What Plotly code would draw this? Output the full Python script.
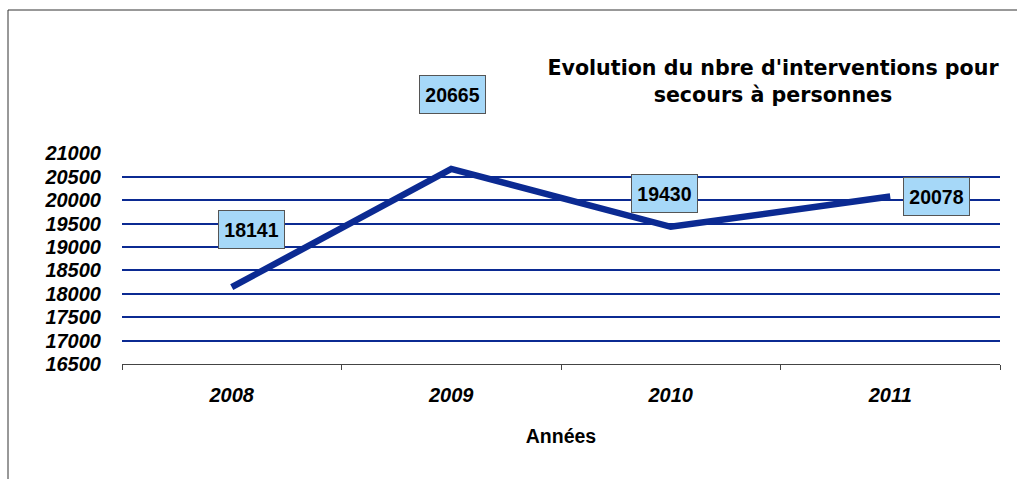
import plotly.graph_objects as go

# ---- data ----
years = ["2008", "2009", "2010", "2011"]
interventions = [18141, 20665, 19430, 20078]
y_tick_values = [16500, 17000, 17500, 18000, 18500, 19000, 19500, 20000, 20500, 21000]
y_tick_labels = [str(v) for v in y_tick_values]

title_text = "Evolution du nbre d'interventions pour<br>secours à personnes"
x_title = "Années"

# ---- styling constants ----
W, H = 1017, 479
ML, MR, MT, MB = 122, 17, 153, 115
NAVY = "#0b2a92"
FONT = "Liberation Sans, Arial, sans-serif"
TITLE_FONT = "DejaVu Sans, Liberation Sans, sans-serif"
label_shifts = [(20, 58), (1, 74), (-6, 33), (46, 0)]

fig = go.Figure()
fig.add_trace(go.Scatter(
    x=years, y=interventions, mode="lines",
    line=dict(color=NAVY, width=6.5),
    hoverinfo="skip", showlegend=False,
))

for i, (val, (dx, dy)) in enumerate(zip(interventions, label_shifts)):
    fig.add_annotation(
        x=i, y=val, xref="x", yref="y", text=str(val), showarrow=False,
        xshift=dx, yshift=dy,
        font=dict(family=FONT, size=19.5, color="black", weight="bold"),
        bgcolor="#a6d8f8", bordercolor="#555555", borderwidth=1,
        width=63, height=35, borderpad=1, align="center",
    )

plot_w = W - ML - MR
plot_h = H - MT - MB
fig.add_shape(
    type="rect", xref="paper", yref="paper",
    x0=(8 - ML) / plot_w, x1=1.2,
    y0=-1.0, y1=(H - MB - 10) / plot_h,
    line=dict(color="#333333", width=1), fillcolor="rgba(0,0,0,0)",
    layer="below",
)

fig.update_layout(
    width=W, height=H,
    margin=dict(l=ML, r=MR, t=MT, b=MB, autoexpand=False),
    paper_bgcolor="white", plot_bgcolor="white",
    title=dict(
        text=title_text, xref="container", yref="container",
        x=773 / W, xanchor="center", y=1 - 75 / H, yanchor="top",
        font=dict(family=TITLE_FONT, size=20.6, color="black", weight="bold"),
    ),
    xaxis=dict(
        type="category", range=[-0.5, 3.5],
        showgrid=False, showline=True, linecolor="#444444", linewidth=1,
        ticks="outside", tickson="boundaries", ticklen=5, tickcolor="#444444",
        tickfont=dict(family=FONT, size=20, color="black", weight="bold", style="italic"),
        ticklabelstandoff=13,
        title=dict(text=x_title, standoff=24,
                   font=dict(family=FONT, size=19.5, color="black", weight="bold")),
        automargin=False, fixedrange=True,
    ),
    yaxis=dict(
        range=[16500, 21006], tickvals=y_tick_values, ticktext=y_tick_labels,
        showgrid=True, gridcolor=NAVY, gridwidth=2, zeroline=False,
        showline=False, ticks="",
        tickfont=dict(family=FONT, size=20, color="black", weight="bold", style="italic"),
        ticklabelstandoff=20,
        automargin=False, fixedrange=True,
    ),
)

fig.write_html("out.html", config={"displayModeBar": False},
               post_script="document.body.style.margin='0';")
